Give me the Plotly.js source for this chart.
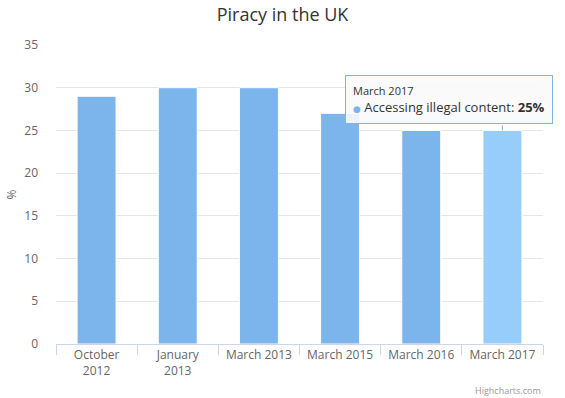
<!DOCTYPE html>
<html>
<head>
<meta charset="utf-8">
<script src="https://cdn.plot.ly/plotly-3.0.1.min.js"></script>
<style>html,body{margin:0;padding:0;background:#fff;}#chart{width:565px;height:398px;}</style>
</head>
<body>
<div id="chart"></div>
<script>
const categories = ["October 2012", "January 2013", "March 2013", "March 2015", "March 2016", "March 2017"];
const tickLabels = ["October<br>2012", "January<br>2013", "March 2013", "March 2015", "March 2016", "March 2017"];
const values = [29, 30, 30, 27, 25, 25];
const seriesName = "Accessing illegal content";
const hoverIndex = 5;

const baseColor = "#7cb5ec";
const hoverColor = "#96cdfb";
const colors = values.map((v, i) => i === hoverIndex ? hoverColor : baseColor);

const font = "'Open Sans', 'DejaVu Sans', sans-serif";

const trace = {
  type: "bar",
  x: categories,
  y: values,
  name: seriesName,
  width: 0.48,
  marker: {color: colors, line: {color: "#ffffff", width: 1}},
  hoverinfo: "none"
};

const layout = {
  width: 565, height: 398,
  margin: {l: 56, r: 22, t: 45, b: 54},
  paper_bgcolor: "#ffffff",
  plot_bgcolor: "#ffffff",
  font: {family: font, color: "#666666"},
  title: {text: "Piracy in the UK", x: 0.5, xanchor: "center", y: 0.98, yanchor: "top",
          font: {family: font, size: 18, color: "#333333"}},
  showlegend: false,
  xaxis: {
    type: "category",
    automargin: false,
    range: [-0.5, categories.length - 0.5],
    tickvals: categories,
    ticktext: tickLabels,
    tickson: "boundaries",
    ticks: "outside",
    ticklen: 10,
    tickcolor: "#ccd6eb",
    showline: true,
    linecolor: "#ccd6eb",
    linewidth: 1,
    showgrid: false,
    tickfont: {size: 12, color: "#666666", family: font},
    fixedrange: true
  },
  yaxis: {
    automargin: false,
    range: [0, 35],
    dtick: 5,
    showgrid: true,
    gridcolor: "#e6e6e6",
    zeroline: false,
    showline: false,
    ticks: "",
    ticklabelstandoff: 17,
    tickfont: {size: 12, color: "#666666", family: font},
    title: {text: "%", font: {size: 12, color: "#666666", family: font}, standoff: 5},
    fixedrange: true
  },
  annotations: [
    {
      x: categories[hoverIndex], y: values[hoverIndex], xref: "x", yref: "y",
      text: " ",
      showarrow: true,
      arrowhead: 0,
      arrowwidth: 1,
      arrowcolor: baseColor,
      standoff: 0,
      ax: 0, ay: -7,
      font: {size: 1}
    },
    {
      x: categories[hoverIndex], y: values[hoverIndex], xref: "x", yref: "y",
      text: "<span style='font-size:11px'>" + categories[hoverIndex] + "</span><br>" +
            "<span style='color:" + baseColor + ";font-size:9px'>●</span> " + seriesName + ": <b>" + values[hoverIndex] + "%</b>",
      align: "left",
      showarrow: false,
      xanchor: "center", yanchor: "bottom",
      xshift: -53, yshift: 6,
      bgcolor: "rgba(250,250,250,0.9)",
      bordercolor: baseColor,
      borderwidth: 1,
      borderpad: 7,
      font: {family: font, size: 13, color: "#333333"}
    },
    {
      x: 1, y: 0, xref: "paper", yref: "paper",
      xanchor: "right", yanchor: "top", yshift: -38,
      text: "Highcharts.com",
      showarrow: false,
      font: {family: font, size: 9, color: "#999999"}
    }
  ]
};

Plotly.newPlot("chart", [trace], layout, {displayModeBar: false, staticPlot: true});
</script>
</body>
</html>
